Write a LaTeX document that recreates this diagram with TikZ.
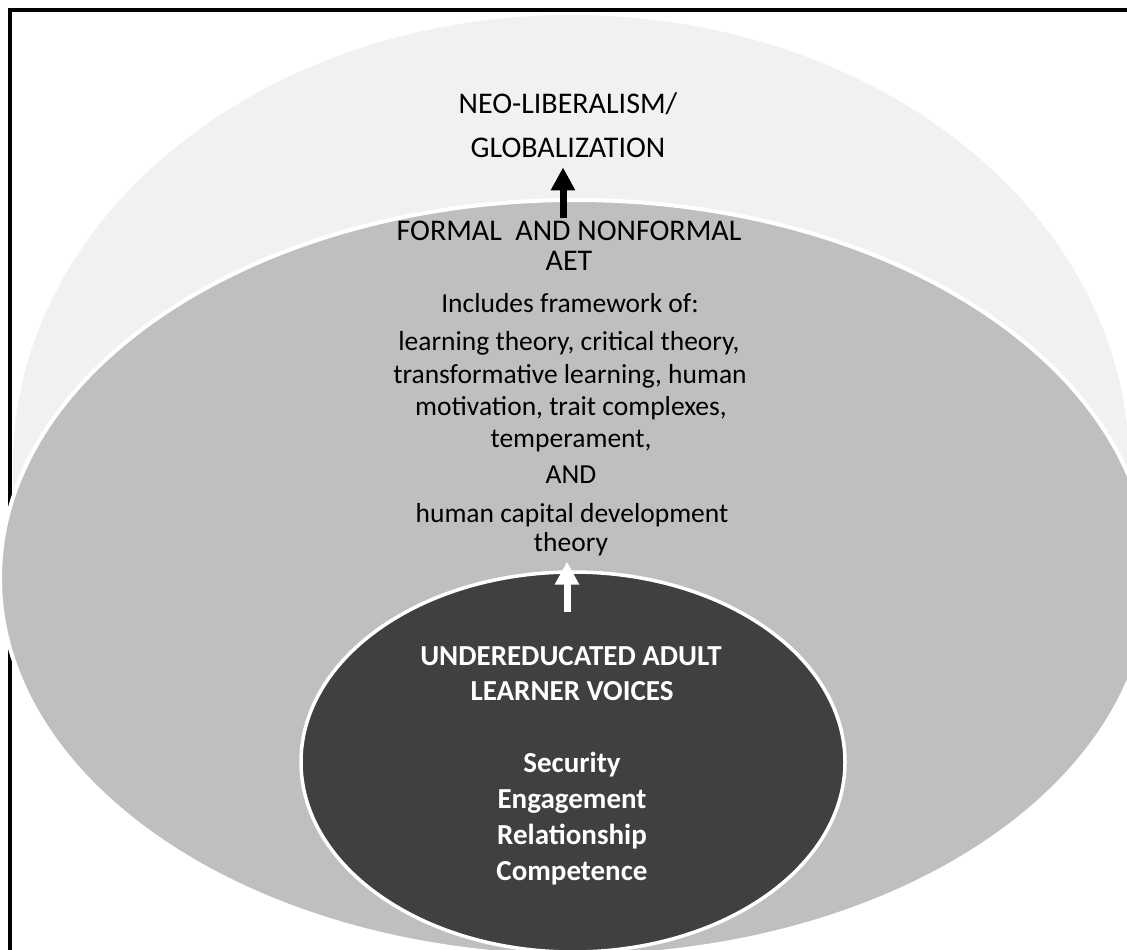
\documentclass[tikz,border=0pt]{standalone}
\usepackage{fontspec}
\setmainfont{Carlito}
\usetikzlibrary{arrows.meta}
\definecolor{outerg}{HTML}{F1F1F1}
\definecolor{midg}{HTML}{BFBFBF}
\definecolor{darkg}{HTML}{404040}
\begin{document}
\begin{tikzpicture}[x=1pt,y=-1pt,
  hd/.style={font=\fontsize{30}{36}\selectfont, anchor=base, inner sep=2pt},
  bd/.style={font=\fontsize{27.5}{32}\selectfont, anchor=base, inner sep=2pt},
  wt/.style={font=\bfseries\fontsize{29}{35}\selectfont, text=white, anchor=base, inner sep=2pt},
  uparrow/.style={line width=7pt, -{Triangle[width=23pt,length=23pt]}}]
\useasboundingbox (0,0) rectangle (1127,950);
\clip (0,0) rectangle (1127,950);
\fill[white] (0,0) rectangle (1127,950);
\draw[line width=4pt] (10,10) rectangle (1160,980);
\fill[outerg] (571,465) ellipse [x radius=558pt, y radius=450pt];
\filldraw[fill=midg, draw=white, line width=4pt] (575,578) ellipse [x radius=575pt, y radius=378pt];
\filldraw[fill=darkg, draw=white, line width=3.5pt] (573,762) ellipse [x radius=272pt, y radius=190pt];

\node[hd] (neo) at (568,113) {NEO-LIBERALISM/};
\node[hd] (globe) at (568,157) {GLOBALIZATION};
\node[hd] (formal) at (569,240) {FORMAL\ \ AND NONFORMAL};
\node[hd] (aet) at (569,270) {AET};
\node[bd] (incl) at (570,312) {Includes framework of:};
\node[bd] (l1) at (569,350) {learning theory, critical theory,};
\node[bd] (l2) at (570,383) {transformative learning, human};
\node[bd] (l3) at (571,415) {motivation, trait complexes,};
\node[bd] (l4) at (571,447) {temperament,};
\node[bd] (and) at (571,483) {AND};
\node[bd] (hc) at (572,522) {human capital development};
\node[bd] (theory) at (571,551) {theory};

\node[wt] (und) at (571,665) {UNDEREDUCATED ADULT};
\node[wt] (lv) at (572,700) {LEARNER VOICES};
\node[wt] (sec) at (572,772) {Security};
\node[wt] (eng) at (572,808) {Engagement};
\node[wt] (rel) at (572,844) {Relationship};
\node[wt] (comp) at (572,880) {Competence};

\draw[uparrow, shorten >=8pt] ([xshift=-6pt]formal.north) -- ([xshift=-5pt]globe.south);
\draw[uparrow, white, shorten <=32pt, shorten >=4pt] ([xshift=-4pt]und.north) -- ([xshift=-4pt]theory.south);
\end{tikzpicture}
\end{document}
